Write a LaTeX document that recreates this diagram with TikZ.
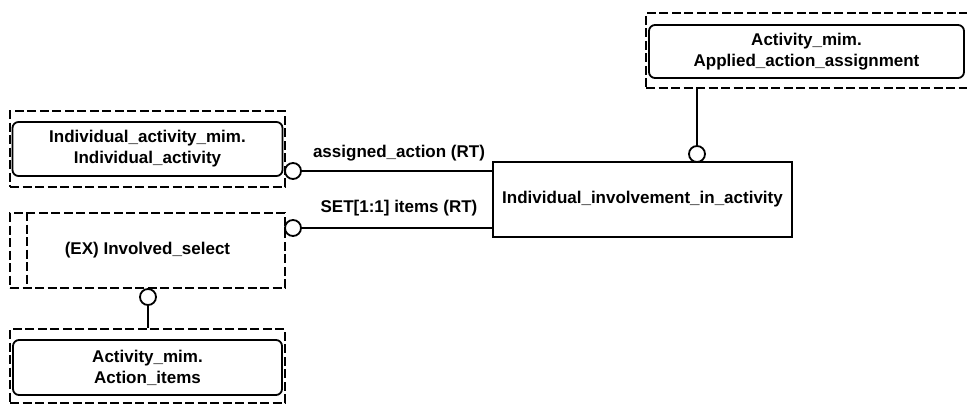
\documentclass[tikz,border=0pt]{standalone}
\usepackage{fontspec}
\setmainfont{Liberation Sans}

\begin{document}
\begin{tikzpicture}[x=1pt, y=-1pt, line width=1.8pt,
    txt/.style={font=\bfseries\fontsize{17}{21}\selectfont},
    mim/.style={txt, draw, rounded corners=6pt, align=center, inner sep=0pt},
    ext/.style={draw, dash pattern=on 9pt off 3.5pt, inner sep=0pt},
    ring/.style={circle, draw, fill=white, minimum size=16pt, inner sep=0pt}]
  \useasboundingbox (0,0) rectangle (967,404);

  % top right: applied action assignment
  \node[ext, minimum width=336pt, minimum height=75pt] (aaaext) at (814,50.5) {};
  \node[mim, minimum width=315pt, minimum height=53pt] (aaa) at (806.5,51.5)
    {Activity\_mim.\\Applied\_action\_assignment};

  % left column
  \node[ext, minimum width=275pt, minimum height=76pt] (iaext) at (147.5,149) {};
  \node[mim, minimum width=270pt, minimum height=54pt] (ia) at (147.5,149)
    {Individual\_activity\_mim.\\Individual\_activity};

  \node[ext, txt, minimum width=275pt, minimum height=75pt] (sel) at (147.5,250.5)
    {(EX) Involved\_select};
  \draw[dash pattern=on 9pt off 3.5pt] ([xshift=18pt]sel.north west) -- ([xshift=18pt]sel.south west);

  \node[ext, minimum width=275pt, minimum height=74pt] (aiext) at (147.5,366) {};
  \node[mim, minimum width=269pt, minimum height=55pt] (ai) at (147.5,367.5)
    {Activity\_mim.\\Action\_items};

  % entity
  \node[txt, draw, minimum width=299pt, minimum height=75pt] (iia) at (642.5,199.5)
    {Individual\_involvement\_in\_activity};

  % relations
  \node[ring] (r1) at (293,171) {};
  \node[ring] (r2) at (293,228) {};
  \node[ring] (r3) at (148,297) {};
  \node[ring] (r4) at (697,154) {};
  \draw (r1.east) -- (r1 -| iia.west);
  \draw (r2.east) -- (r2 -| iia.west);
  \draw (r3.south) -- (r3 |- aiext.north);
  \draw (r4.north) -- (r4 |- aaaext.south);

  \node[txt] (l1) at (399,153) {assigned\_action (RT)};
  \node[txt] (l2) at (399,208) {SET[1:1] items (RT)};
\end{tikzpicture}
\end{document}
